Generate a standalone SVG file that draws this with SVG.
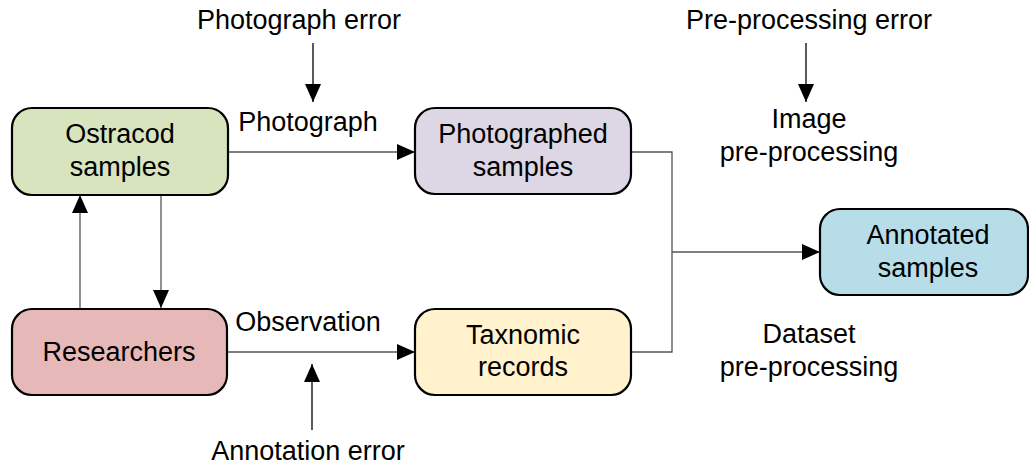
<svg xmlns="http://www.w3.org/2000/svg" width="1029" height="465" viewBox="0 0 1029 465">
<style>
.box{stroke:#000;stroke-width:2.2}
.t{font-family:"Liberation Sans",Arial,sans-serif;font-size:27px;fill:#000;text-anchor:middle}
.c{fill:none;stroke:#555;stroke-width:1.3}
.e{fill:none;stroke:#000;stroke-width:1.3}
</style>
<defs>
<marker id="ah" markerWidth="18" markerHeight="16" refX="18" refY="8" orient="auto" markerUnits="userSpaceOnUse">
<path d="M0,0 L18,8 L0,16 Z" fill="#000"/>
</marker>
</defs>
<rect width="1029" height="465" fill="#fff"/>
<g id="connectors">
<path class="c" d="M228,152 H415" marker-end="url(#ah)"/>
<path class="c" d="M631,152 H672 V352 H631"/>
<path class="c" d="M672,252 H820" marker-end="url(#ah)"/>
<path class="c" d="M161,195 V308" marker-end="url(#ah)"/>
<path class="c" d="M80,308 V195" marker-end="url(#ah)"/>
<path class="c" d="M227,352 H415" marker-end="url(#ah)"/>
<path class="e" d="M313,43 V102" marker-end="url(#ah)"/>
<path class="e" d="M806,43 V102" marker-end="url(#ah)"/>
<path class="e" d="M312,430 V364" marker-end="url(#ah)"/>
</g>
<g id="ostracod">
<rect class="box" x="12" y="108" width="216" height="87" rx="20" fill="#d7e4bd"/>
<text class="t" x="120" y="143">Ostracod</text>
<text class="t" x="120" y="176">samples</text>
</g>
<g id="photographed">
<rect class="box" x="415" y="108" width="216" height="86" rx="20" fill="#dcd6e5"/>
<text class="t" x="523" y="143">Photographed</text>
<text class="t" x="523" y="176">samples</text>
</g>
<g id="annotated">
<rect class="box" x="820" y="209" width="208" height="86" rx="20" fill="#b7dde8"/>
<text class="t" x="928" y="244">Annotated</text>
<text class="t" x="928" y="277">samples</text>
</g>
<g id="researchers">
<rect class="box" x="12" y="309" width="215" height="86" rx="20" fill="#e6b9b8"/>
<text class="t" x="119" y="361">Researchers</text>
</g>
<g id="taxnomic">
<rect class="box" x="415" y="309" width="216" height="86" rx="20" fill="#fff2cc"/>
<text class="t" x="523" y="344">Taxnomic</text>
<text class="t" x="523" y="376">records</text>
</g>
<g id="labels">
<text class="t" x="299" y="29">Photograph error</text>
<text class="t" x="308" y="131">Photograph</text>
<text class="t" x="809" y="29">Pre-processing error</text>
<text class="t" x="809" y="128">Image</text>
<text class="t" x="809" y="161">pre-processing</text>
<text class="t" x="809" y="343">Dataset</text>
<text class="t" x="809" y="376">pre-processing</text>
<text class="t" x="308" y="331">Observation</text>
<text class="t" x="308" y="460">Annotation error</text>
</g>
</svg>
